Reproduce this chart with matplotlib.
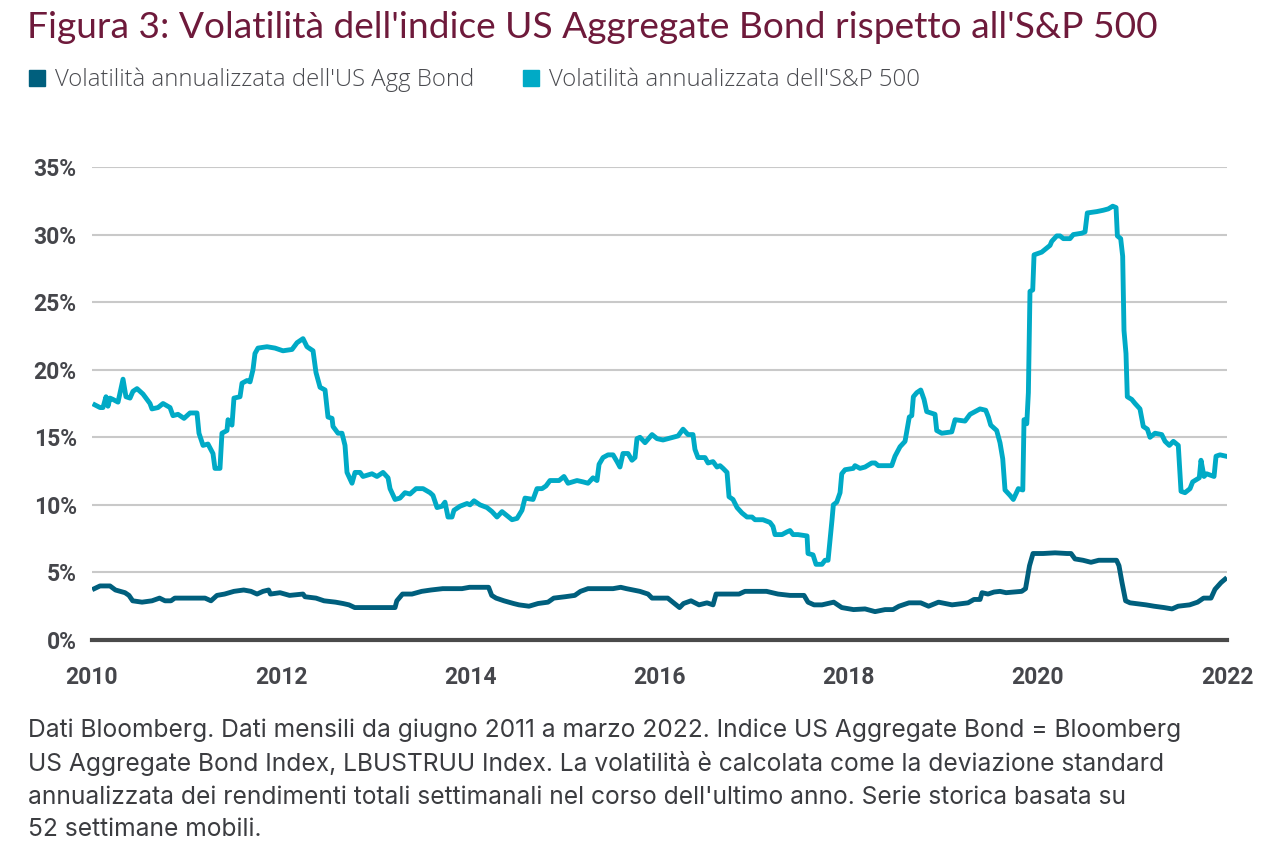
import numpy as np
import matplotlib.pyplot as plt
from matplotlib.lines import Line2D

# S&P 500 annualised volatility (%)
sp_year = [2010.03, 2010.085, 2010.116, 2010.148, 2010.169, 2010.19, 2010.222, 2010.275, 2010.328, 2010.359,
           2010.402, 2010.433, 2010.476, 2010.539, 2010.582, 2010.613, 2010.634, 2010.698, 2010.751, 2010.825,
           2010.856, 2010.909, 2010.973, 2011.036, 2011.11, 2011.131, 2011.174, 2011.226, 2011.279, 2011.3,
           2011.353, 2011.374, 2011.427, 2011.438, 2011.48, 2011.501, 2011.565, 2011.586, 2011.639, 2011.671,
           2011.702, 2011.723, 2011.755, 2011.85, 2011.935, 2012.019, 2012.115, 2012.168, 2012.231, 2012.273,
           2012.337, 2012.368, 2012.411, 2012.464, 2012.495, 2012.538, 2012.548, 2012.601, 2012.643, 2012.675,
           2012.696, 2012.749, 2012.781, 2012.834, 2012.865, 2012.96, 2013.013, 2013.077, 2013.13, 2013.151,
           2013.204, 2013.256, 2013.309, 2013.362, 2013.426, 2013.5, 2013.574, 2013.605, 2013.648, 2013.701,
           2013.732, 2013.764, 2013.806, 2013.827, 2013.891, 2013.965, 2013.997, 2014.039, 2014.102, 2014.176,
           2014.229, 2014.282, 2014.335, 2014.388, 2014.441, 2014.494, 2014.546, 2014.578, 2014.663, 2014.705,
           2014.758, 2014.8, 2014.842, 2014.895, 2014.938, 2014.99, 2015.033, 2015.128, 2015.191, 2015.244,
           2015.297, 2015.339, 2015.361, 2015.403, 2015.456, 2015.509, 2015.551, 2015.582, 2015.614, 2015.667,
           2015.709, 2015.741, 2015.762, 2015.794, 2015.847, 2015.921, 2015.974, 2016.037, 2016.143, 2016.196,
           2016.249, 2016.301, 2016.354, 2016.375, 2016.407, 2016.481, 2016.513, 2016.566, 2016.608, 2016.64,
           2016.672, 2016.714, 2016.735, 2016.777, 2016.82, 2016.872, 2016.925, 2016.978, 2017.01, 2017.094,
           2017.168, 2017.2, 2017.221, 2017.295, 2017.348, 2017.38, 2017.412, 2017.464, 2017.56, 2017.57,
           2017.623, 2017.655, 2017.718, 2017.75, 2017.782, 2017.824, 2017.838, 2017.874, 2017.909, 2017.927,
           2017.962, 2018.049, 2018.067, 2018.12, 2018.173, 2018.244, 2018.279, 2018.314, 2018.455, 2018.49,
           2018.543, 2018.596, 2018.641, 2018.667, 2018.684, 2018.72, 2018.762, 2018.797, 2018.825, 2018.913,
           2018.931, 2018.984, 2019.09, 2019.125, 2019.23, 2019.283, 2019.389, 2019.449, 2019.477, 2019.502,
           2019.565, 2019.6, 2019.629, 2019.653, 2019.706, 2019.741, 2019.794, 2019.841, 2019.854, 2019.883,
           2019.9, 2019.917, 2019.946, 2019.96, 2020.041, 2020.094, 2020.129, 2020.147, 2020.2, 2020.235,
           2020.27, 2020.34, 2020.375, 2020.464, 2020.499, 2020.523, 2020.623, 2020.692, 2020.745, 2020.792,
           2020.827, 2020.841, 2020.876, 2020.897, 2020.911, 2020.932, 2020.946, 2020.993, 2021.028, 2021.08,
           2021.115, 2021.158, 2021.186, 2021.239, 2021.31, 2021.345, 2021.39, 2021.433, 2021.485, 2021.514,
           2021.556, 2021.609, 2021.637, 2021.707, 2021.725, 2021.757, 2021.785, 2021.863, 2021.884, 2021.926,
           2021.989]
sp_vol = [17.4, 17.2, 17.2, 18.0, 17.3, 17.9, 17.8, 17.6, 19.3, 18.0,
          17.9, 18.4, 18.6, 18.2, 17.8, 17.5, 17.1, 17.2, 17.5, 17.2,
          16.6, 16.7, 16.4, 16.8, 16.8, 15.3, 14.4, 14.5, 13.8, 12.7,
          12.7, 15.3, 15.5, 16.3, 15.9, 17.9, 18.0, 19.0, 19.2, 19.1,
          20.0, 21.2, 21.6, 21.7, 21.6, 21.4, 21.5, 22.0, 22.3, 21.7,
          21.4, 19.8, 18.7, 18.5, 16.5, 16.4, 15.8, 15.3, 15.3, 14.4,
          12.4, 11.6, 12.4, 12.4, 12.1, 12.3, 12.1, 12.4, 12.0, 11.2,
          10.4, 10.5, 10.9, 10.8, 11.2, 11.2, 10.9, 10.7, 9.8, 9.9,
          10.2, 9.1, 9.1, 9.6, 9.9, 10.1, 10.0, 10.3, 10.0, 9.8,
          9.5, 9.1, 9.5, 9.2, 8.9, 9.0, 9.6, 10.5, 10.4, 11.2,
          11.2, 11.4, 11.8, 11.8, 11.8, 12.1, 11.6, 11.8, 11.7, 11.6,
          12.0, 11.8, 13.0, 13.5, 13.7, 13.7, 13.2, 12.8, 13.8, 13.8,
          13.3, 13.5, 14.9, 15.0, 14.6, 15.2, 14.9, 14.8, 15.0, 15.1,
          15.6, 15.2, 15.2, 14.1, 13.5, 13.5, 13.1, 13.2, 12.8, 12.9,
          12.7, 12.4, 10.6, 10.4, 9.8, 9.4, 9.1, 9.1, 8.9, 8.9,
          8.7, 8.4, 7.8, 7.8, 8.0, 8.1, 7.8, 7.8, 7.7, 6.4,
          6.3, 5.6, 5.6, 5.9, 5.9, 8.9, 10.0, 10.2, 10.9, 12.3,
          12.6, 12.7, 12.9, 12.7, 12.8, 13.1, 13.1, 12.9, 12.9, 13.6,
          14.3, 14.7, 16.5, 16.6, 18.0, 18.3, 18.5, 17.8, 16.9, 16.7,
          15.5, 15.3, 15.4, 16.3, 16.2, 16.7, 17.1, 17.0, 16.5, 15.9,
          15.5, 14.6, 13.4, 11.1, 10.7, 10.4, 11.2, 11.1, 16.3, 16.0,
          18.3, 25.8, 25.9, 28.5, 28.7, 29.0, 29.2, 29.5, 29.9, 29.9,
          29.7, 29.7, 30.0, 30.1, 30.2, 31.6, 31.7, 31.8, 31.9, 32.1,
          32.0, 29.9, 29.7, 28.4, 22.9, 21.2, 18.0, 17.8, 17.5, 17.1,
          15.8, 15.6, 15.0, 15.3, 15.2, 14.7, 14.4, 14.7, 14.4, 11.0,
          10.9, 11.2, 11.7, 12.0, 13.3, 12.1, 12.3, 12.1, 13.6, 13.7,
          13.6]

# US Aggregate Bond annualised volatility (%)
bond_year = [2010.025, 2010.085, 2010.19, 2010.248, 2010.349, 2010.391, 2010.43, 2010.529, 2010.634, 2010.714,
             2010.772, 2010.835, 2010.875, 2011.036, 2011.195, 2011.258, 2011.321, 2011.402, 2011.501, 2011.604,
             2011.681, 2011.745, 2011.808, 2011.867, 2011.887, 2011.988, 2012.089, 2012.231, 2012.252, 2012.368,
             2012.453, 2012.575, 2012.654, 2012.717, 2012.778, 2012.897, 2013.02, 2013.14, 2013.204, 2013.223,
             2013.283, 2013.383, 2013.486, 2013.584, 2013.708, 2013.912, 2013.991, 2014.071, 2014.193, 2014.226,
             2014.272, 2014.356, 2014.457, 2014.515, 2014.62, 2014.716, 2014.821, 2014.882, 2015.001, 2015.104,
             2015.165, 2015.244, 2015.407, 2015.509, 2015.59, 2015.65, 2015.792, 2015.879, 2015.921, 2016.087,
             2016.149, 2016.212, 2016.254, 2016.333, 2016.418, 2016.502, 2016.566, 2016.598, 2016.714, 2016.841,
             2016.904, 2017.131, 2017.253, 2017.38, 2017.528, 2017.57, 2017.634, 2017.718, 2017.842, 2017.927,
             2018.051, 2018.173, 2018.279, 2018.385, 2018.469, 2018.532, 2018.638, 2018.762, 2018.845, 2018.95,
             2019.093, 2019.262, 2019.325, 2019.389, 2019.41, 2019.473, 2019.537, 2019.6, 2019.664, 2019.829,
             2019.87, 2019.912, 2019.949, 2020.055, 2020.182, 2020.309, 2020.351, 2020.393, 2020.478, 2020.562,
             2020.644, 2020.727, 2020.832, 2020.858, 2020.89, 2020.928, 2020.975, 2021.144, 2021.229, 2021.335,
             2021.419, 2021.483, 2021.605, 2021.689, 2021.752, 2021.831, 2021.873, 2021.937, 2021.979]
bond_vol = [3.8, 4.0, 4.0, 3.7, 3.5, 3.3, 2.9, 2.8, 2.9, 3.1,
            2.9, 2.9, 3.1, 3.1, 3.1, 2.9, 3.3, 3.4, 3.6, 3.7,
            3.6, 3.4, 3.6, 3.7, 3.4, 3.5, 3.3, 3.4, 3.2, 3.1,
            2.9, 2.8, 2.7, 2.6, 2.4, 2.4, 2.4, 2.4, 2.4, 2.9,
            3.4, 3.4, 3.6, 3.7, 3.8, 3.8, 3.9, 3.9, 3.9, 3.3,
            3.1, 2.9, 2.7, 2.6, 2.5, 2.7, 2.8, 3.1, 3.2, 3.3,
            3.6, 3.8, 3.8, 3.8, 3.9, 3.8, 3.6, 3.4, 3.1, 3.1,
            2.75, 2.4, 2.7, 2.9, 2.6, 2.75, 2.6, 3.4, 3.4, 3.4,
            3.6, 3.6, 3.4, 3.3, 3.3, 2.8, 2.6, 2.6, 2.8, 2.4,
            2.25, 2.3, 2.1, 2.25, 2.25, 2.5, 2.75, 2.75, 2.5, 2.8,
            2.6, 2.75, 3.0, 3.0, 3.5, 3.4, 3.55, 3.6, 3.5, 3.6,
            3.8, 5.5, 6.4, 6.4, 6.45, 6.4, 6.4, 6.0, 5.9, 5.75,
            5.9, 5.9, 5.9, 5.5, 4.25, 2.9, 2.75, 2.6, 2.5, 2.4,
            2.3, 2.5, 2.6, 2.8, 3.1, 3.1, 3.75, 4.25, 4.5]

year_ticks = [2010, 2012, 2014, 2016, 2018, 2020, 2022]
pct_ticks = [0, 5, 10, 15, 20, 25, 30, 35]

c_bond = '#005f7d'
c_sp = '#00aac6'
c_tick = '#45464b'

fig = plt.figure(figsize=(12.68, 8.6), dpi=100)
ax = fig.add_axes([92 / 1268, 1 - 640 / 860, (1227 - 92) / 1268, (640 - 167) / 860])

ax.plot(sp_year, sp_vol, color=c_sp, lw=3.5, solid_joinstyle='round', zorder=3)
ax.plot(bond_year, bond_vol, color=c_bond, lw=3.5, solid_joinstyle='round', zorder=4)

ax.set_xlim(2010, 2022)
ax.set_ylim(0, 35)
ax.set_xticks(year_ticks)
ax.set_xticklabels([str(y) for y in year_ticks])
ax.set_yticks(pct_ticks)
ax.set_yticklabels([f'{p}%' for p in pct_ticks])
ax.grid(axis='y', color='#c9c9c9', lw=1.5)
ax.set_axisbelow(True)
for s in ['top', 'right', 'left']:
    ax.spines[s].set_visible(False)
ax.spines['bottom'].set_color('#4a4a4a')
ax.spines['bottom'].set_linewidth(3)
ax.spines['bottom'].set_zorder(5)
ax.tick_params(length=0, labelsize=16.5, labelcolor=c_tick)
ax.tick_params(axis='x', pad=19)
ax.tick_params(axis='y', pad=11)
for lab in ax.get_xticklabels() + ax.get_yticklabels():
    lab.set_fontfamily('Roboto')
    lab.set_fontweight('bold')

fig.text(27 / 1268, 1 - 27 / 860, "Figura 3: Volatilità dell'indice US Aggregate Bond rispetto all'S&P 500",
         fontsize=26.7, color='#6e1a3b', family='Lato', va='center', ha='left')

handles = [Line2D([], [], marker='s', ls='none', ms=11.5, color=c_bond),
           Line2D([], [], marker='s', ls='none', ms=11.5, color=c_sp)]
labels = ["Volatilità annualizzata dell'US Agg Bond", "Volatilità annualizzata dell'S&P 500"]
fig.legend(handles, labels, loc='center left', bbox_to_anchor=(8 / 1268, 1 - 80 / 860), ncol=2,
           frameon=False, handlelength=0.6, handletextpad=0.45, columnspacing=2.1,
           prop={'family': 'Open Sans', 'size': 17.2, 'weight': 'light'}, labelcolor='#4a4b50')

note = ("Dati Bloomberg. Dati mensili da giugno 2011 a marzo 2022. Indice US Aggregate Bond = Bloomberg\n"
        "US Aggregate Bond Index, LBUSTRUU Index. La volatilità è calcolata come la deviazione standard\n"
        "annualizzata dei rendimenti totali settimanali nel corso dell'ultimo anno. Serie storica basata su\n"
        "52 settimane mobili.")
fig.text(28 / 1268, 1 - 718 / 860, note, fontsize=17.7, color='#3b3c40', family='Inter',
         va='top', ha='left', linespacing=1.5)

fig.savefig('out.png', dpi=100)
